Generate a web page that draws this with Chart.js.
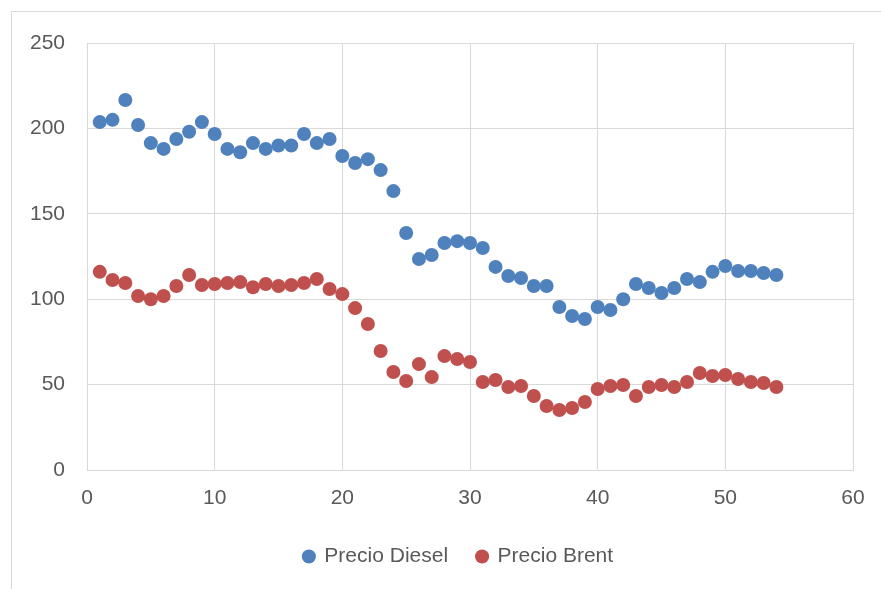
<!DOCTYPE html>
<html>
<head>
<meta charset="utf-8">
<script src="https://cdn.jsdelivr.net/npm/chart.js@4"></script>
<style>
  html, body { margin: 0; padding: 0; background: #fff; }
  #wrap { position: relative; width: 881px; height: 589px; overflow: hidden; }
  #frame { position: absolute; left: 11px; top: 11px; width: 900px; height: 600px;
           border-left: 1px solid #d9d9d9; border-top: 1px solid #d9d9d9; }
  canvas { position: absolute; left: 0; top: 0; }
</style>
</head>
<body>
<div id="wrap">
  <div id="frame"></div>
  <canvas id="chart" width="881" height="589"></canvas>
</div>
<script>
const weeks = [];
for (let i = 1; i <= 54; i++) weeks.push(i);

const diesel = [
  203.7, 205, 216.6, 202, 191.4, 188, 193.8, 198, 203.7, 196.7,
  188, 186, 191.4, 188, 190, 190, 196.7, 191.4, 193.8, 183.8,
  179.7, 182, 175.6, 163.3, 138.8, 123.5, 125.9, 132.9, 134, 132.9,
  130, 118.9, 113.6, 112.4, 107.7, 107.7, 95.4, 90.2, 88.4, 95.4,
  93.7, 100, 108.9, 106.6, 103.6, 106.6, 111.8, 110, 116, 119.4,
  116.5, 116.5, 115.3, 114.2
];

const brent = [
  116, 111.2, 109.5, 101.9, 100, 101.9, 107.7, 114.2, 108.3, 108.9,
  109.5, 110, 107, 108.9, 107.7, 108.3, 109.5, 111.8, 106, 103,
  94.8, 85.5, 69.7, 57.4, 52.1, 62, 54.4, 66.7, 65, 63.2,
  51.5, 52.7, 48.6, 49.2, 43.3, 37.5, 35.1, 36.3, 39.8, 47.4,
  49.2, 49.8, 43.3, 48.6, 49.8, 48.6, 51.5, 56.8, 55, 55.6,
  53.3, 51.5, 50.9, 48.6
];

const seriesNames = ["Precio Diesel", "Precio Brent"];
const seriesColors = ["#4f81bd", "#c0504d"];

const toPoints = (vals) => vals.map((v, i) => ({ x: weeks[i], y: v }));

const font = { family: "'Liberation Sans', Arial, sans-serif", size: 21 };
const gridColor = "#d9d9d9";

// nudge the legend to the right, like the original (centred on the frame)
const legendShift = {
  id: "legendShift",
  afterLayout(chart) {
    chart.legend.left += 32;
    chart.legend.right += 32;
  },
};

new Chart(document.getElementById("chart"), {
  type: "scatter",
  plugins: [legendShift],
  data: {
    datasets: [
      {
        label: seriesNames[0],
        data: toPoints(diesel),
        backgroundColor: seriesColors[0],
        borderWidth: 0,
        pointRadius: 7,
      },
      {
        label: seriesNames[1],
        data: toPoints(brent),
        backgroundColor: seriesColors[1],
        borderWidth: 0,
        pointRadius: 7,
      },
    ],
  },
  options: {
    responsive: false,
    animation: false,
    layout: { padding: { left: 0, right: 28, top: 43, bottom: 12 } },
    plugins: {
      tooltip: { enabled: false },
      legend: {
        position: "bottom",
        labels: {
          usePointStyle: true,
          pointStyle: "circle",
          boxWidth: 10,
          boxHeight: 10,
          padding: 29,
          color: "#595959",
          font: font,
        },
      },
    },
    scales: {
      x: {
        type: "linear",
        min: 0,
        max: 60,
        ticks: { stepSize: 10, color: "#595959", font: font, padding: 16 },
        grid: { color: gridColor, drawTicks: false },
        border: { color: gridColor },
        afterFit: (s) => { s.height = 47; },
      },
      y: {
        min: 0,
        max: 250,
        ticks: { stepSize: 50, color: "#595959", font: font, padding: 22 },
        grid: { color: gridColor, drawTicks: false },
        border: { color: gridColor },
        afterFit: (s) => { s.width = 87; },
      },
    },
  },
});
</script>
</body>
</html>
